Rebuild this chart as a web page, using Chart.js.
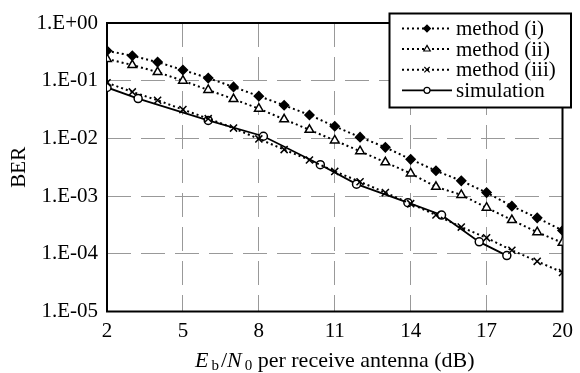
<!DOCTYPE html>
<html>
<head>
<meta charset="utf-8">
<script src="https://cdn.jsdelivr.net/npm/chart.js@4.4.0/dist/chart.umd.min.js"></script>
<style>
  html, body { margin: 0; padding: 0; background: #fff; }
</style>
</head>
<body>
<canvas id="myChart" width="580" height="373"></canvas>
<script>
// Eb/N0 (dB) for the three analytical methods
const snr = [2, 3, 4, 5, 6, 7, 8, 9, 10, 11, 12, 13, 14, 15, 16, 17, 18, 19, 20];
const methodI = [0.33, 0.27, 0.21, 0.153, 0.111, 0.078, 0.054, 0.0375, 0.0255, 0.0162, 0.0105,
  0.0070, 0.00434, 0.00275, 0.00184, 0.00115, 0.00067, 0.00042, 0.000254];
const methodII = [0.238, 0.187, 0.141, 0.100, 0.069, 0.048, 0.0328, 0.0214, 0.0141, 0.0092, 0.0060,
  0.00385, 0.00247, 0.00145, 0.00105, 0.00063, 0.000385, 0.000237, 0.000155];
const methodIII = [0.092, 0.064, 0.0458, 0.0316, 0.022, 0.0151, 0.0098, 0.0064, 0.00423, 0.00268, 0.00177,
  0.00115, 0.00074, 0.00047, 0.00029, 0.000189, 0.000115, 0.000074, 0.0000475];

// simulation points
const simSnr = [2, 3.23, 6.0, 8.18, 10.43, 11.86, 13.89, 15.22, 16.71, 17.8];
const simBer = [0.0764, 0.0491, 0.0205, 0.0109, 0.0035, 0.00161, 0.00077, 0.00047, 0.000161, 0.000093];

const xTicks = [2, 5, 8, 11, 14, 17, 20];
const yTicks = [1e-5, 1e-4, 1e-3, 1e-2, 1e-1, 1];
const seriesNames = ['method (i)', 'method (ii)', 'method (iii)', 'simulation'];

const FONT = "'Liberation Serif', 'DejaVu Serif', serif";

function toPoints(xs, ys) {
  return xs.map((x, i) => ({ x: x, y: ys[i] }));
}

function berLabel(value) {
  const exp = Math.round(Math.log10(value));
  const sign = exp < 0 ? '-' : '+';
  return '1.E' + sign + String(Math.abs(exp)).padStart(2, '0');
}

const styles = [
  { pointStyle: 'rectRot', radius: 4.5, bg: '#000', dash: [2, 3], lw: 2 },
  { pointStyle: 'triangle', radius: 5, bg: '#fff', dash: [2, 3], lw: 2 },
  { pointStyle: 'crossRot', radius: 5, bg: '#000', dash: [2, 3], lw: 2 },
  { pointStyle: 'circle', radius: 4, bg: '#fff', dash: [], lw: 1.8 }
];

const seriesData = [
  toPoints(snr, methodI),
  toPoints(snr, methodII),
  toPoints(snr, methodIII),
  toPoints(simSnr, simBer)
];

const datasets = seriesNames.map((name, i) => ({
  label: name,
  data: seriesData[i],
  borderColor: '#000',
  borderWidth: styles[i].lw,
  borderDash: styles[i].dash,
  pointStyle: styles[i].pointStyle,
  pointRadius: styles[i].radius,
  pointBackgroundColor: styles[i].bg,
  pointBorderColor: '#000',
  pointBorderWidth: 1.5,
  tension: 0,
  fill: false
}));

// black frame round the plot area
const framePlugin = {
  id: 'frame',
  beforeDatasetsDraw(chart) {
    const { ctx, chartArea: a } = chart;
    ctx.save();
    ctx.strokeStyle = '#000';
    ctx.lineWidth = 2;
    ctx.strokeRect(a.left, a.top, a.right - a.left, a.bottom - a.top);
    ctx.restore();
  }
};

// boxed legend in the top right corner, and the x axis title with subscripts
const extrasPlugin = {
  id: 'extras',
  afterDraw(chart) {
    const ctx = chart.ctx;
    const a = chart.chartArea;
    ctx.save();

    // legend
    const bx = 389.5, by = 13.5, bw = 181.5, bh = 94;
    ctx.fillStyle = '#fff';
    ctx.fillRect(bx, by, bw, bh);
    ctx.strokeStyle = '#000';
    ctx.lineWidth = 2;
    ctx.strokeRect(bx, by, bw, bh);
    seriesNames.forEach((name, i) => {
      const y = 28.5 + i * 20.6;
      ctx.strokeStyle = '#000';
      ctx.lineWidth = styles[i].lw;
      ctx.setLineDash(styles[i].dash);
      ctx.beginPath();
      ctx.moveTo(402, y);
      ctx.lineTo(452, y);
      ctx.stroke();
      ctx.setLineDash([]);
      ctx.fillStyle = styles[i].bg;
      ctx.lineWidth = 1.2;
      Chart.helpers.drawPoint(ctx, {
        pointStyle: styles[i].pointStyle,
        radius: styles[i].radius * 0.75,
        rotation: 0,
        borderWidth: 1.2
      }, 427, y);
      ctx.fillStyle = '#000';
      ctx.font = '21px ' + FONT;
      ctx.textBaseline = 'middle';
      ctx.textAlign = 'left';
      ctx.fillText(name, 456, y + 1);
    });

    // x axis title: Eb/N0 per receive antenna (dB)
    const parts = [
      { t: 'E', f: 'italic 22px ' + FONT, dy: 0, gap: 3 },
      { t: 'b', f: '15px ' + FONT, dy: 3, gap: 2 },
      { t: '/', f: '22px ' + FONT, dy: 0, gap: 0 },
      { t: 'N', f: 'italic 22px ' + FONT, dy: 0, gap: 3 },
      { t: '0', f: '15px ' + FONT, dy: 3, gap: 0 },
      { t: ' per receive antenna (dB)', f: '22px ' + FONT, dy: 0, gap: 0 }
    ];
    let total = 0;
    parts.forEach(p => { ctx.font = p.f; p.w = ctx.measureText(p.t).width + p.gap; total += p.w; });
    let x = (a.left + a.right) / 2 - total / 2;
    const base = 367;
    ctx.fillStyle = '#000';
    ctx.textBaseline = 'alphabetic';
    ctx.textAlign = 'left';
    parts.forEach(p => {
      ctx.font = p.f;
      ctx.fillText(p.t, x, base + p.dy);
      x += p.w;
    });

    // y axis title
    ctx.translate(19, (a.top + a.bottom) / 2);
    ctx.rotate(-Math.PI / 2);
    ctx.font = '21px ' + FONT;
    ctx.textAlign = 'center';
    ctx.textBaseline = 'middle';
    ctx.fillText('BER', 0, 0);
    ctx.restore();
  }
};

new Chart(document.getElementById('myChart'), {
  type: 'line',
  data: { datasets: datasets },
  options: {
    responsive: false,
    animation: false,
    devicePixelRatio: 1,
    layout: { padding: { top: 23, right: 12.5, left: 0, bottom: 0 } },
    plugins: {
      legend: { display: false },
      tooltip: { enabled: false }
    },
    scales: {
      x: {
        type: 'linear',
        min: 2,
        max: 20,
        afterBuildTicks: axis => { axis.ticks = xTicks.map(v => ({ value: v })); },
        afterFit: axis => { axis.height = 61.5; },
        ticks: {
          color: '#000',
          font: { family: FONT, size: 21 },
          padding: 7,
          maxRotation: 0
        },
        grid: { color: '#999', lineWidth: 1, drawTicks: false },
        border: { display: false, dash: [24, 10] }
      },
      y: {
        type: 'logarithmic',
        min: 1e-5,
        max: 1,
        afterBuildTicks: axis => { axis.ticks = yTicks.map(v => ({ value: v })); },
        afterFit: axis => { axis.width = 107; },
        ticks: {
          color: '#000',
          font: { family: FONT, size: 21 },
          padding: 9,
          callback: value => berLabel(value)
        },
        grid: { color: '#999', lineWidth: 1, drawTicks: false },
        border: { display: false, dash: [24, 10] }
      }
    }
  },
  plugins: [framePlugin, extrasPlugin]
});
</script>
</body>
</html>
